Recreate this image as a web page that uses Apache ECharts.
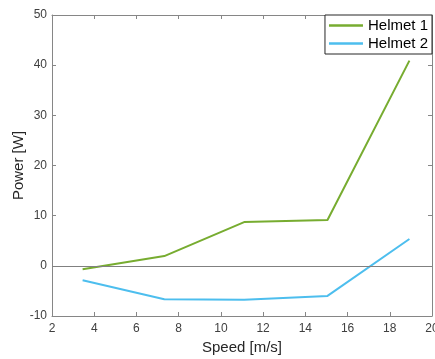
<!DOCTYPE html>
<html>
<head>
<meta charset="utf-8">
<script src="https://cdn.jsdelivr.net/npm/echarts@6/dist/echarts.min.js"></script>
<style>
  html, body { margin: 0; padding: 0; background: #fff; }
  #chart { width: 435px; height: 359px; }
</style>
</head>
<body>
<div id="chart"></div>
<script>
// Measured speeds and power for two helmets
const speeds = [3.45, 7.32, 11.1, 15.05, 18.93];
const helmet1 = [-0.7, 1.95, 8.72, 9.12, 40.9];
const helmet2 = [-2.89, -6.67, -6.75, -6.0, 5.34];
const seriesNames = ['Helmet 1', 'Helmet 2'];

const FONT = 'Liberation Sans, Arial, Helvetica, sans-serif';
const AXIS_COLOR = '#868686';
const LABEL_COLOR = '#404040';

const pairs = (xs, ys) => xs.map((x, i) => [x, ys[i]]);

const frameAxis = {
  axisLine: { show: true, onZero: false, lineStyle: { color: AXIS_COLOR, width: 1 } },
  axisTick: { show: true, inside: true, length: 4, lineStyle: { color: AXIS_COLOR } },
  splitLine: { show: false }
};

const option = {
  animation: false,
  backgroundColor: '#ffffff',
  grid: { left: 52, right: 3, top: 15, bottom: 43, containLabel: false, outerBoundsMode: 'none' },
  legend: {
    data: seriesNames.map(n => ({ name: n, icon: 'rect' })),
    orient: 'vertical',
    right: 3,
    top: 15,
    backgroundColor: '#ffffff',
    borderColor: '#262626',
    borderWidth: 1,
    borderRadius: 0,
    padding: [3, 4, 3, 4],
    itemGap: 3,
    itemWidth: 34,
    itemHeight: 2.5,
    textStyle: { fontFamily: FONT, fontSize: 15, color: '#000' }
  },
  xAxis: [
    Object.assign({
      type: 'value', min: 2, max: 20, interval: 2, position: 'bottom',
      name: 'Speed [m/s]', nameLocation: 'middle', nameGap: 24, nameMoveOverlap: false,
      nameTextStyle: { fontFamily: FONT, fontSize: 15, color: '#262626' },
      axisLabel: { fontFamily: FONT, fontSize: 12, color: LABEL_COLOR, margin: 7 }
    }, frameAxis),
    Object.assign({
      type: 'value', min: 2, max: 20, interval: 2, position: 'top',
      axisLabel: { show: false }
    }, frameAxis)
  ],
  yAxis: [
    Object.assign({
      type: 'value', min: -10, max: 50, interval: 10, position: 'left',
      name: 'Power [W]', nameLocation: 'middle', nameGap: 26, nameMoveOverlap: false,
      nameTextStyle: { fontFamily: FONT, fontSize: 15, color: '#262626' },
      axisLabel: { fontFamily: FONT, fontSize: 12, color: LABEL_COLOR, margin: 5 }
    }, frameAxis),
    Object.assign({
      type: 'value', min: -10, max: 50, interval: 10, position: 'right',
      axisLabel: { show: false }
    }, frameAxis)
  ],
  series: [
    {
      name: seriesNames[0], type: 'line', data: pairs(speeds, helmet1),
      symbol: 'none', color: '#77AC30',
      lineStyle: { width: 2, color: '#77AC30' },
      z: 3,
      markLine: {
        silent: true, symbol: 'none', label: { show: false },
        lineStyle: { color: '#808080', width: 1, type: 'solid' },
        data: [{ yAxis: 0 }]
      }
    },
    {
      name: seriesNames[1], type: 'line', data: pairs(speeds, helmet2),
      symbol: 'none', color: '#4DBEEE',
      lineStyle: { width: 2, color: '#4DBEEE' },
      z: 3
    }
  ]
};

echarts.init(document.getElementById('chart'), null, { renderer: 'canvas' }).setOption(option);
</script>
</body>
</html>
